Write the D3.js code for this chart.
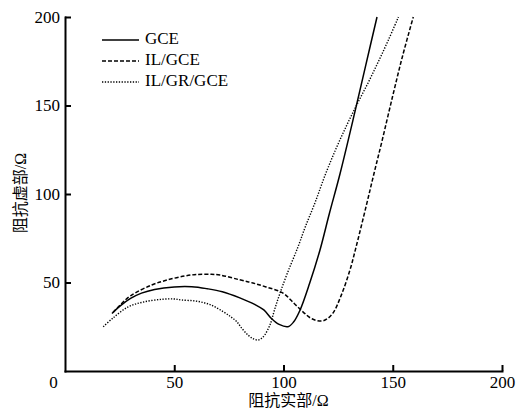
<!DOCTYPE html>
<html>
<head>
<meta charset="utf-8">
<script src="https://cdn.jsdelivr.net/npm/d3@7"></script>
<style>
    body { margin: 0; background: #fff; }
    .axis path, .axis line { stroke: #000; stroke-width: 2; }
    .axis text { font-family: "Liberation Serif", "Times New Roman", serif; font-size: 17px; fill: #000; }
    .legendtext { font-family: "Liberation Serif", "Times New Roman", serif; font-size: 17px; fill: #000; }
    .title { font-family: "Liberation Serif", "Noto Sans CJK SC", serif; font-size: 16px; fill: #000; }
</style>
</head>
<body>
<div id="chart"></div>
<script>
let seriesNames = ["GCE", "IL/GCE", "IL/GR/GCE"];

let gceX = [21.5, 25, 30, 35, 41, 50, 58, 65, 72, 80, 87, 91, 94.6, 98, 102, 104.5, 107.6, 112, 116.7, 121, 125.9, 132.7, 137.5, 142.8];
let gceY = [32.5, 36.5, 41, 44, 46.1, 47.5, 47.6, 46.5, 44.8, 41.3, 37.5, 34.5, 29.5, 26.3, 25, 27.5, 34.5, 49.7, 68.4, 89, 111.6, 146.5, 172, 200];

let ilGceX = [22, 25, 30, 39.7, 47, 54.9, 60, 67, 71, 80, 86, 92, 99.8, 105, 109, 113, 117.5, 120, 122.7, 126.5, 130.4, 133, 138, 141.5, 145, 150, 154.5, 159.4];
let ilGceY = [33, 37, 42.5, 48.6, 51.5, 53.7, 54.5, 54.6, 54.2, 51.5, 49.7, 47.5, 44, 38, 33.3, 29.5, 28.2, 29.5, 32.8, 43, 57, 69, 94, 112, 129.5, 155.5, 178, 200];

let ilGrGceX = [17.5, 22, 29, 36, 44.2, 50, 53.4, 60, 66.4, 72.4, 76, 78.6, 81, 83.8, 86, 88.3, 90, 91.5, 93.8, 96, 98.4, 102, 106.6, 110, 114.4, 119, 124, 129, 134, 139, 143.5, 148, 152.6];
let ilGrGceY = [25, 30, 36.3, 39, 40.5, 40.7, 40.1, 39.5, 37.5, 33.5, 30.5, 27.9, 24, 20.3, 18.3, 17.5, 18.5, 20.5, 26, 35, 44, 56, 70, 81.5, 95, 110.5, 125.5, 139, 151.5, 163.5, 175, 187, 200];

let xTicks = [0, 50, 100, 150, 200];
let yTicks = [50, 100, 150, 200];

let xTitle = "阻抗实部/Ω";
let yTitle = "阻抗虚部/Ω";

// layout
let margin = {top: 17, right: 28, bottom: 39, left: 65};
let svgWidth = 530, svgHeight = 410;
let width = svgWidth - margin.left - margin.right;
let height = svgHeight - margin.top - margin.bottom;

let svg = d3.select("#chart").append("svg")
    .attr("width", svgWidth)
    .attr("height", svgHeight);

let g = svg.append("g")
    .attr("transform", "translate(" + margin.left + "," + margin.top + ")");

let x = d3.scaleLinear().domain([0, 200]).range([0, width]);
let y = d3.scaleLinear().domain([0, 200]).range([height, 0]);

// axes with inward ticks
let xAxis = d3.axisBottom(x).tickValues(xTicks).tickSize(-6).tickSizeOuter(0).tickPadding(5);
let yAxis = d3.axisLeft(y).tickValues(yTicks).tickSize(-6).tickSizeOuter(0).tickPadding(5);

let gx = g.append("g").classed("axis", true)
    .attr("transform", "translate(0," + height + ")")
    .call(xAxis);
// the origin label sits left of the corner, no tick there
gx.selectAll(".tick").filter(d => d === 0).select("line").remove();
gx.selectAll(".tick").filter(d => d === 0).select("text").attr("x", -12);

let gy = g.append("g").classed("axis", true).call(yAxis);
g.selectAll(".axis path").attr("stroke-linecap", "square");

// axis titles
svg.append("text").classed("title", true)
    .attr("x", margin.left + x(100) + 5)
    .attr("y", 406)
    .attr("text-anchor", "middle")
    .text(xTitle);

svg.append("text").classed("title", true)
    .attr("transform", "translate(26," + 193 + ") rotate(-90)")
    .attr("text-anchor", "middle")
    .text(yTitle);

// series
let series = [
    {name: seriesNames[0], xs: gceX, ys: gceY, dash: null, w: 1.5},
    {name: seriesNames[1], xs: ilGceX, ys: ilGceY, dash: "4,2", w: 1.5},
    {name: seriesNames[2], xs: ilGrGceX, ys: ilGrGceY, dash: "1.3,1.5", w: 1.4}
];

let line = d3.line()
    .x(d => x(d[0]))
    .y(d => y(d[1]))
    .curve(d3.curveCatmullRom.alpha(0.5));

g.selectAll(".series").data(series).enter()
    .append("path")
    .attr("class", "series")
    .attr("fill", "none")
    .attr("stroke", "#000")
    .attr("stroke-width", d => d.w)
    .attr("stroke-dasharray", d => d.dash)
    .attr("d", d => line(d.xs.map((v, i) => [v, d.ys[i]])));

// legend
let legend = svg.append("g").attr("transform", "translate(102,40)");
let rows = legend.selectAll("g").data(series).enter().append("g")
    .attr("transform", (d, i) => "translate(0," + i * 21 + ")");
rows.append("line")
    .attr("x1", 0).attr("x2", 37)
    .attr("y1", 0).attr("y2", 0)
    .attr("stroke", "#000")
    .attr("stroke-width", d => d.w)
    .attr("stroke-dasharray", d => d.dash);
rows.append("text").classed("legendtext", true)
    .attr("x", 43)
    .attr("y", 4)
    .text(d => d.name);
</script>
</body>
</html>
